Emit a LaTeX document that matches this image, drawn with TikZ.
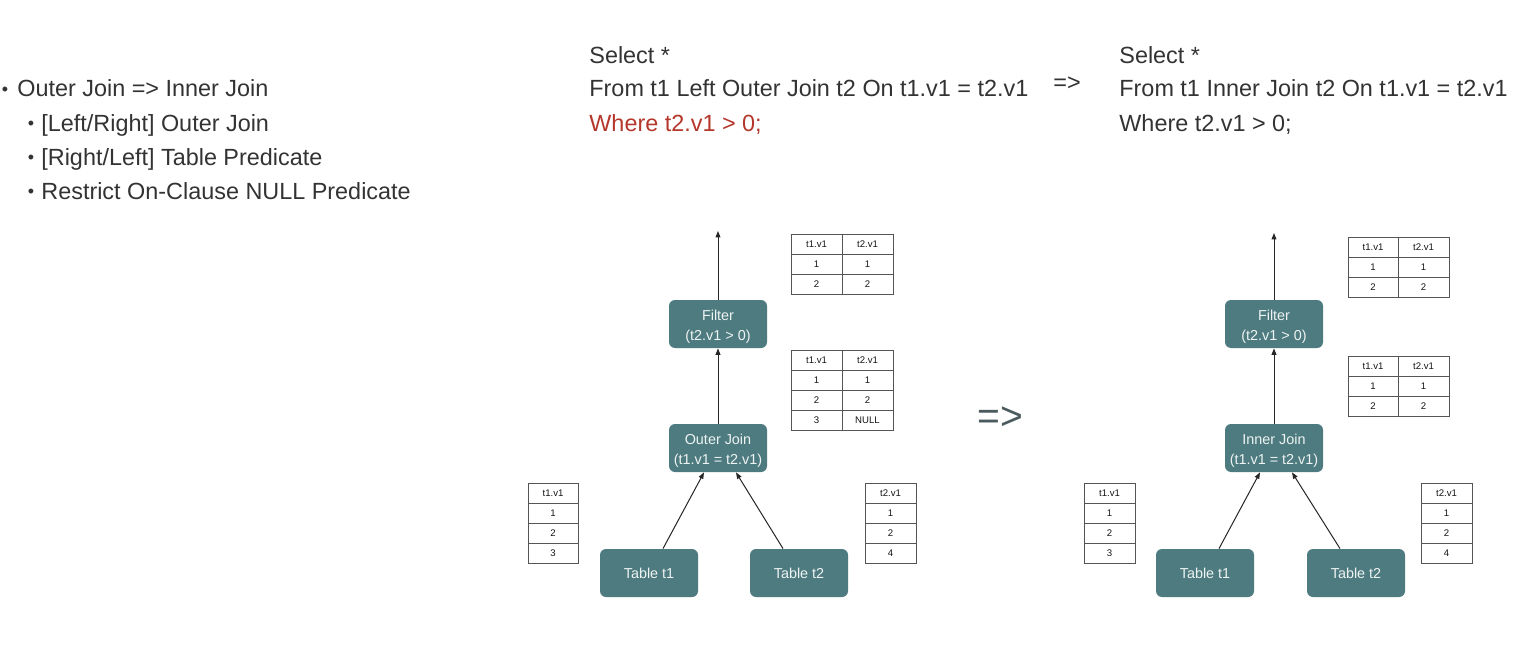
\documentclass[tikz,border=0pt]{standalone}
\usepackage{fontspec}
\setmainfont{Liberation Sans}
\usetikzlibrary{arrows.meta,calc}
\definecolor{txt}{HTML}{333333}
\definecolor{sqlred}{HTML}{B5372B}
\definecolor{nodefill}{HTML}{4E7B7F}
\definecolor{nodetxt}{HTML}{EEF3F3}
\definecolor{bigarrow}{HTML}{4A5A5E}
\definecolor{tabborder}{HTML}{555555}
\definecolor{tabtext}{HTML}{151515}
\newcommand{\upstrut}{\rule{0pt}{8.4pt}}
\tikzset{
  body/.style={anchor=base west, inner sep=0pt, text=txt, font=\fontsize{11.7}{14}\selectfont},
  bul/.style={inner sep=0pt, text=txt, font=\fontsize{9}{10}\selectfont},
  op/.style={fill=nodefill, rounded corners=3pt, minimum width=49pt, minimum height=24pt,
    text=nodetxt, font=\fontsize{7.2}{10}\selectfont, align=center, inner sep=0pt},
  flow/.style={draw=black!85, line width=0.5pt, -{Triangle[width=2.4pt,length=3.2pt]}},
  tabline/.style={draw=tabborder, line width=0.5pt},
  tabtxt/.style={inner sep=0pt, text=tabtext, font=\fontsize{4.8}{5.5}\selectfont},
}
\newcommand{\twotab}[7]{%
  \foreach \a/\b [count=\i from 0] in {#7}{
    \draw[tabline] (#2,{#5+#6*\i}) rectangle (#3,{#5+#6*(\i+1)});
    \draw[tabline] (#3,{#5+#6*\i}) rectangle (#4,{#5+#6*(\i+1)});
    \node[tabtxt] (#1-\i-a) at ({(#2+#3)/2},{#5+#6*(\i+0.5)}) {\a};
    \node[tabtxt] (#1-\i-b) at ({(#3+#4)/2},{#5+#6*(\i+0.5)}) {\b};
  }}
\newcommand{\onetab}[6]{%
  \foreach \a [count=\i from 0] in {#6}{
    \draw[tabline] (#2,{#4+#5*\i}) rectangle (#3,{#4+#5*(\i+1)});
    \node[tabtxt] (#1-\i) at ({(#2+#3)/2},{#4+#5*(\i+0.5)}) {\a};
  }}
\begin{document}
\begin{tikzpicture}[x=0.5pt,y=-0.5pt]
\useasboundingbox[fill=white] (0,0) rectangle (1522,669);

% bullet list
\node[bul] (b0) at (5,91) {\textbullet};
\node[body] (l0) at (17,97) {Outer Join => Inner Join};
\node[bul] (b1) at (31,125) {\textbullet};
\node[body] (l1) at (41,131) {[Left/Right] Outer Join};
\node[bul] (b2) at (31,159) {\textbullet};
\node[body] (l2) at (41,165) {[Right/Left] Table Predicate};
\node[bul] (b3) at (31,193) {\textbullet};
\node[body] (l3) at (41,199) {Restrict On-Clause NULL Predicate};

% SQL left
\node[body] (s1) at (589,63) {Select *};
\node[body] (s2) at (589,97) {From t1 Left Outer Join t2 On t1.v1 = t2.v1};
\node[body, text=sqlred] (s3) at (589,131) {Where t2.v1 > 0;};
\node[inner sep=0pt, text=txt, font=\fontsize{11.7}{14}\selectfont] (sarr) at (1067,84) {=>};
% SQL right
\node[body] (r1) at (1119,63) {Select *};
\node[body] (r2) at (1119,97) {From t1 Inner Join t2 On t1.v1 = t2.v1};
\node[body] (r3) at (1119,131) {Where t2.v1 > 0;};

% big arrow
\node[inner sep=0pt, text=bigarrow, font=\fontsize{19.5}{22}\selectfont] (barr) at (1000,418) {=>};

% left plan
\node[op] (f1) at (718,324) {\upstrut Filter\\(t2.v1 > 0)};
\node[op] (j1) at (718,448) {\upstrut Outer Join\\(t1.v1 = t2.v1)};
\node[op] (a1) at (649,573) {Table t1};
\node[op] (c1) at (799,573) {Table t2};
\coordinate (top1) at (718,231);
\draw[flow] (f1.north) -- (top1);
\draw[flow] (j1.north) -- (f1.south);
\draw[flow] ($(a1.north)+(14,0)$) -- ($(j1.south)+(-14,0)$);
\draw[flow] ($(c1.north)+(-16,0)$) -- ($(j1.south)+(18,0)$);

\twotab{L1}{791}{842}{893}{234}{20}{t1.v1/t2.v1,1/1,2/2}
\twotab{L2}{791}{842}{893}{350}{20}{t1.v1/t2.v1,1/1,2/2,3/NULL}
\onetab{L3}{528}{578}{483}{20}{t1.v1,1,2,3}
\onetab{L4}{865}{916}{483}{20}{t2.v1,1,2,4}

% right plan
\node[op] (f2) at (1274,324) {\upstrut Filter\\(t2.v1 > 0)};
\node[op] (j2) at (1274,448) {\upstrut Inner Join\\(t1.v1 = t2.v1)};
\node[op] (a2) at (1205,573) {Table t1};
\node[op] (c2) at (1356,573) {Table t2};
\coordinate (top2) at (1274,233);
\draw[flow] (f2.north) -- (top2);
\draw[flow] (j2.north) -- (f2.south);
\draw[flow] ($(a2.north)+(14,0)$) -- ($(j2.south)+(-14,0)$);
\draw[flow] ($(c2.north)+(-16,0)$) -- ($(j2.south)+(18,0)$);

\twotab{R1}{1348}{1398}{1449}{237}{20}{t1.v1/t2.v1,1/1,2/2}
\twotab{R2}{1348}{1398}{1449}{356}{20}{t1.v1/t2.v1,1/1,2/2}
\onetab{R3}{1084}{1135}{483}{20}{t1.v1,1,2,3}
\onetab{R4}{1421}{1472}{483}{20}{t2.v1,1,2,4}
\end{tikzpicture}
\end{document}
